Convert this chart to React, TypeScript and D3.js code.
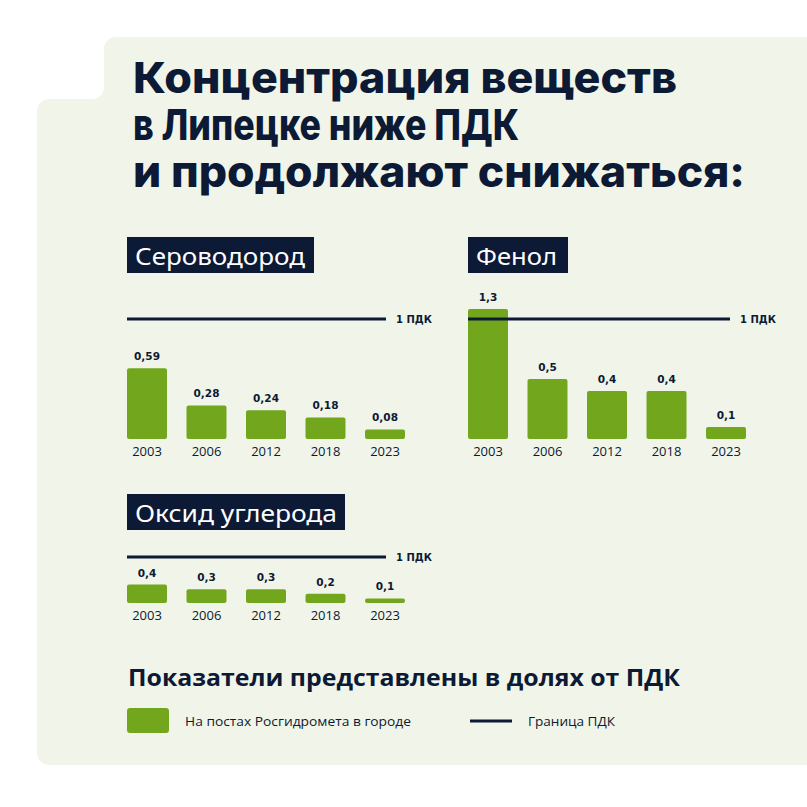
import React from "react";
import * as d3 from "d3";

const years = ["2003", "2006", "2012", "2018", "2023"];
const h2sValues = [0.59, 0.28, 0.24, 0.18, 0.08];
const phenolValues = [1.3, 0.5, 0.4, 0.4, 0.1];
const coValues = [0.4, 0.3, 0.3, 0.2, 0.1];
const panelTitles = ["Сероводород", "Фенол", "Оксид углерода"];
const titleLines = ["Концентрация веществ", "в Липецке ниже ПДК", "и продолжают снижаться:"];
const pdkLabel = "1 ПДК";
const noteTitle = "Показатели представлены в долях от ПДК";
const legendBar = "На постах Росгидромета в городе";
const legendLine = "Граница ПДК";

const NAVY = "#0c1a35";
const GREEN = "#72a61d";
const BG = "#f1f5e9";

const fmt = (v: number) => String(v).replace(".", ",");

type PanelProps = {
  title: string;
  values: number[];
  x0: number;
  boxY: number;
  boxW: number;
  titleLen: number;
  base: number;
  unit: number;
  maxH: number;
  lineEnd: number;
};

function Panel({ title, values, x0, boxY, boxW, titleLen, base, unit, maxH, lineEnd }: PanelProps) {
  const x = d3.scaleBand<string>().domain(years).range([x0, x0 + 278]).paddingInner(0.328).paddingOuter(0);
  const y = d3
    .scaleLinear()
    .domain([0, maxH / unit])
    .range([base, base - maxH])
    .clamp(true);
  const lineY = y(1);
  return (
    <g>
      <rect x={x0} y={boxY} width={boxW} height={36} fill={NAVY} />
      <text
        x={x0 + 8}
        y={boxY + 28}
        fill="#ffffff"
        fontFamily="'Noto Sans', sans-serif"
        fontSize={24}
        textLength={titleLen}
        lengthAdjust="spacingAndGlyphs"
      >
        {title}
      </text>
      {values.map((v, i) => {
        const bx = x(years[i]) as number;
        const top = y(v);
        return (
          <g key={years[i]}>
            <rect x={bx} y={top} width={x.bandwidth()} height={base - top} rx={2} fill={GREEN} />
            <text
              x={bx + x.bandwidth() / 2}
              y={top - 8}
              textAnchor="middle"
              fill={NAVY}
              fontFamily="'DejaVu Sans', sans-serif"
              fontWeight={700}
              fontSize={10.5}
            >
              {fmt(v)}
            </text>
            <text
              x={bx + x.bandwidth() / 2}
              y={base + 17}
              textAnchor="middle"
              fill={NAVY}
              fontFamily="'Open Sans', sans-serif"
              fontSize={13}
            >
              {years[i]}
            </text>
          </g>
        );
      })}
      <line x1={x0} x2={lineEnd} y1={lineY} y2={lineY} stroke={NAVY} strokeWidth={3} />
      <text
        x={lineEnd + 10}
        y={lineY + 4}
        fill={NAVY}
        fontFamily="'DejaVu Sans', sans-serif"
        fontWeight={700}
        fontSize={10}
      >
        {pdkLabel}
      </text>
    </g>
  );
}

export default function App() {
  const r = 12;
  const bgPath = [
    `M ${104 + r} 37`,
    `L 807 37`,
    `L 807 765`,
    `L ${37 + r} 765`,
    `A ${r} ${r} 0 0 1 37 ${765 - r}`,
    `L 37 ${99 + r}`,
    `A ${r} ${r} 0 0 1 ${37 + r} 99`,
    `L ${104 - r} 99`,
    `A ${r} ${r} 0 0 0 104 ${99 - r}`,
    `L 104 ${37 + r}`,
    `A ${r} ${r} 0 0 1 ${104 + r} 37`,
    "Z",
  ].join(" ");
  const titleLens = [544, 386, 612];
  return (
    <svg
      width={807}
      height={807}
      style={{ position: "absolute", left: 0, top: 0, background: "#ffffff" }}
    >
      <path d={bgPath} fill={BG} />
      {titleLines.map((t, i) => (
        <text
          key={i}
          x={133}
          y={93 + i * 47}
          fill={NAVY}
          fontFamily="Inter, sans-serif"
          fontWeight={800}
          fontSize={43}
          textLength={titleLens[i]}
          lengthAdjust="spacingAndGlyphs"
        >
          {t}
        </text>
      ))}
      <Panel title={panelTitles[0]} values={h2sValues} x0={127} boxY={237} boxW={187} titleLen={170} base={439} unit={120} maxH={160} lineEnd={386} />
      <Panel title={panelTitles[1]} values={phenolValues} x0={468} boxY={237} boxW={100} titleLen={81} base={439} unit={120} maxH={130} lineEnd={730} />
      <Panel title={panelTitles[2]} values={coValues} x0={127} boxY={494} boxW={218} titleLen={202} base={603} unit={46} maxH={100} lineEnd={386} />
      <text
        x={128}
        y={686}
        fill={NAVY}
        fontFamily="'Open Sans', sans-serif"
        fontWeight={700}
        fontSize={24}
        textLength={552}
        lengthAdjust="spacingAndGlyphs"
      >
        {noteTitle}
      </text>
      <rect x={127} y={708} width={42} height={25} rx={3} fill={GREEN} />
      <text x={185} y={726} fill={NAVY} fontFamily="'Open Sans', sans-serif" fontSize={13} textLength={226} lengthAdjust="spacingAndGlyphs">
        {legendBar}
      </text>
      <line x1={470} x2={512} y1={721} y2={721} stroke={NAVY} strokeWidth={3} />
      <text x={528} y={726} fill={NAVY} fontFamily="'Open Sans', sans-serif" fontSize={13} textLength={87} lengthAdjust="spacingAndGlyphs">
        {legendLine}
      </text>
    </svg>
  );
}
